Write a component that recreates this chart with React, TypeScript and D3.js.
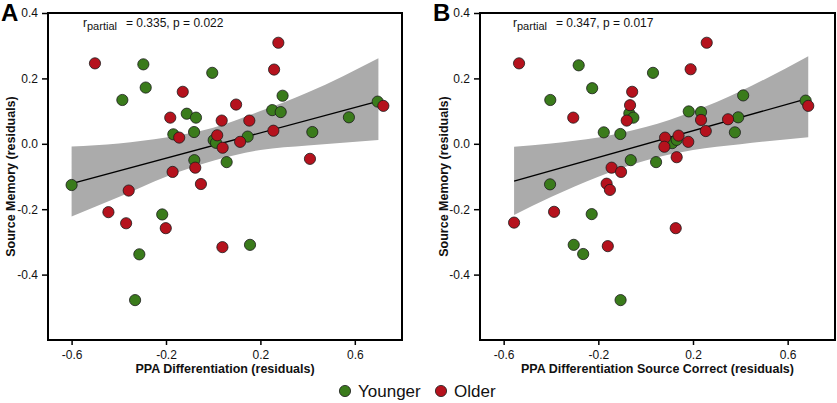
import * as d3 from "d3";
import { useEffect, useRef } from "react";

const width = 837;
const height = 403;
const font = "Arial, 'Liberation Sans', sans-serif";

const green = "#3a7b1b";
const red = "#b5121d";

// panel A: PPA differentiation vs source memory (residuals)
const youngerA: [number, number][] = [
  [-0.296, 0.243], [-0.286, 0.172], [-0.385, 0.134], [-0.004, 0.217],
  [-0.112, 0.092], [-0.073, 0.080], [-0.169, 0.029], [-0.081, 0.036],
  [0.002, 0.011], [0.012, 0.003], [0.146, 0.022], [0.250, 0.103],
  [0.286, 0.097], [0.294, 0.147], [0.697, 0.129], [0.575, 0.081],
  [0.420, 0.036], [-0.080, -0.050], [0.057, -0.056], [-0.600, -0.126],
  [-0.216, -0.216], [-0.313, -0.338], [0.156, -0.309], [-0.331, -0.478],
];
const olderA: [number, number][] = [
  [-0.501, 0.246], [0.276, 0.309], [0.258, 0.227], [-0.129, 0.159],
  [-0.182, 0.080], [0.097, 0.120], [0.036, 0.071], [0.153, 0.071],
  [-0.144, 0.019], [0.017, 0.026], [0.040, -0.012], [0.114, 0.006],
  [0.255, 0.040], [0.721, 0.116], [0.410, -0.046], [-0.172, -0.086],
  [-0.076, -0.073], [-0.052, -0.123], [-0.358, -0.143], [-0.444, -0.209],
  [-0.369, -0.243], [-0.201, -0.258], [0.039, -0.316],
];
const fitA = [{ x: -0.6, y: -0.122 }, { x: 0.693, y: 0.129 }];
const bandAx = [-0.6, -0.4, -0.2, 0, 0.2, 0.4, 0.7];
const bandAlo = [-0.222, -0.163, -0.101, -0.052, -0.019, -0.005, 0.012];
const bandAhi = [-0.008, 0.001, 0.019, 0.049, 0.100, 0.157, 0.262];

// panel B: PPA differentiation source correct vs source memory
const youngerB: [number, number][] = [
  [-0.283, 0.240], [-0.226, 0.170], [-0.403, 0.134], [0.031, 0.217],
  [-0.069, 0.093], [-0.052, 0.080], [-0.177, 0.035], [-0.107, 0.030],
  [-0.063, -0.050], [0.044, -0.056], [0.112, 0.002], [0.131, 0.012],
  [0.182, 0.099], [0.234, 0.097], [0.412, 0.148], [0.391, 0.081],
  [0.377, 0.035], [0.676, 0.132], [-0.404, -0.124], [-0.228, -0.215],
  [-0.304, -0.309], [-0.264, -0.337], [-0.106, -0.478],
];
const olderB: [number, number][] = [
  [-0.535, 0.246], [0.258, 0.309], [0.190, 0.228], [-0.057, 0.159],
  [-0.306, 0.080], [-0.066, 0.118], [-0.080, 0.071], [0.082, 0.019],
  [0.079, -0.009], [0.139, 0.025], [0.180, 0.006], [0.131, -0.041],
  [0.234, 0.073], [0.254, 0.039], [0.348, 0.075], [0.687, 0.116],
  [-0.144, -0.073], [-0.104, -0.086], [-0.165, -0.122], [-0.151, -0.141],
  [-0.387, -0.208], [-0.556, -0.241], [0.127, -0.258], [-0.160, -0.313],
];
const fitB = [{ x: -0.556, y: -0.114 }, { x: 0.687, y: 0.139 }];
const bandBx = [-0.556, -0.4, -0.2, 0, 0.2, 0.4, 0.687];
const bandBlo = [-0.218, -0.163, -0.101, -0.051, -0.019, -0.001, 0.020];
const bandBhi = [-0.009, 0.001, 0.019, 0.051, 0.099, 0.161, 0.268];

const xTicks = [-0.6, -0.2, 0.2, 0.6];
const yTicks = [-0.4, -0.2, 0.0, 0.2, 0.4];

const panels = [
  {
    letter: "A", left: 48, right: 402, younger: youngerA, older: olderA,
    fit: fitA, bx: bandAx, blo: bandAlo, bhi: bandAhi,
    xTitle: "PPA Differentiation (residuals)", r: "0.335", p: "0.022",
    annotX: 83, letterX: 1, yTitleX: 15,
  },
  {
    letter: "B", left: 480, right: 835, younger: youngerB, older: olderB,
    fit: fitB, bx: bandBx, blo: bandBlo, bhi: bandBhi,
    xTitle: "PPA Differentiation Source Correct (residuals)", r: "0.347", p: "0.017",
    annotX: 513, letterX: 433, yTitleX: 448,
  },
];

export default function App() {
  const svgRef = useRef<SVGSVGElement>(null);

  useEffect(() => {
    const svg = d3.select(svgRef.current);
    svg.selectAll("*").remove();

    const top = 13;
    const bottom = 340;

    panels.forEach((pn) => {
      const x = d3.scaleLinear().domain([-0.7, 0.8]).range([pn.left, pn.right]);
      const y = d3.scaleLinear().domain([-0.6, 0.4]).range([bottom, top]);
      const g = svg.append("g");

      // confidence band
      const band = pn.bx.map((v, i) => ({ x: v, lo: pn.blo[i], hi: pn.bhi[i] }));
      g.append("path")
        .datum(band)
        .attr("fill", "#ababab")
        .attr("d", d3.area<any>()
          .x(d => x(d.x))
          .y0(d => y(d.lo))
          .y1(d => y(d.hi))
          .curve(d3.curveMonotoneX));

      g.append("path")
        .datum(pn.fit)
        .attr("fill", "none")
        .attr("stroke", "#000")
        .attr("stroke-width", 1.4)
        .attr("d", d3.line<any>().x(d => x(d.x)).y(d => y(d.y)));

      // points: younger first, older drawn on top
      [[pn.younger, green], [pn.older, red]].forEach(([pts, col]: any) => {
        g.selectAll(null)
          .data(pts)
          .enter()
          .append("circle")
          .attr("cx", (d: any) => x(d[0]))
          .attr("cy", (d: any) => y(d[1]))
          .attr("r", 5.6)
          .attr("fill", col)
          .attr("stroke", "#1a1a1a")
          .attr("stroke-width", 0.8);
      });

      // frame
      g.append("rect")
        .attr("x", pn.left)
        .attr("y", top)
        .attr("width", pn.right - pn.left)
        .attr("height", bottom - top)
        .attr("fill", "none")
        .attr("stroke", "#000")
        .attr("stroke-width", 2);

      const yAxis = g.append("g")
        .attr("transform", `translate(${pn.left},0)`)
        .call(d3.axisLeft(y).tickValues(yTicks).tickSize(6).tickPadding(4)
          .tickFormat(d => (+d).toFixed(1)));
      const xAxis = g.append("g")
        .attr("transform", `translate(0,${bottom})`)
        .call(d3.axisBottom(x).tickValues(xTicks).tickSize(5).tickPadding(5)
          .tickFormat(d => (+d).toFixed(1)));
      [yAxis, xAxis].forEach(ax => {
        ax.select(".domain").remove();
        ax.selectAll("line").attr("stroke", "#000").attr("stroke-width", 1.5);
        ax.selectAll("text").attr("fill", "#111").style("font-size", "12px").style("font-family", font);
      });

      // titles
      g.append("text")
        .attr("x", (pn.left + pn.right) / 2)
        .attr("y", 373)
        .attr("text-anchor", "middle")
        .style("font-family", font)
        .style("font-weight", "bold")
        .style("font-size", "12.5px")
        .attr("fill", "#111")
        .text(pn.xTitle);

      g.append("text")
        .attr("transform", `translate(${pn.yTitleX},${(top + bottom) / 2}) rotate(-90)`)
        .attr("text-anchor", "middle")
        .style("font-family", font)
        .style("font-weight", "bold")
        .style("font-size", "12.5px")
        .attr("fill", "#111")
        .text("Source Memory (residuals)");

      g.append("text")
        .attr("x", pn.letterX)
        .attr("y", 21)
        .style("font-family", font)
        .style("font-weight", "bold")
        .style("font-size", "24px")
        .attr("fill", "#000")
        .text(pn.letter);

      const ann = g.append("text")
        .attr("y", 27)
        .style("font-family", font)
        .attr("fill", "#111");
      ann.append("tspan").attr("x", pn.annotX).style("font-size", "12px").text("r");
      ann.append("tspan").attr("x", pn.annotX + 4).attr("dy", 3).style("font-size", "11px").text("partial");
      ann.append("tspan").attr("x", pn.annotX + 43).attr("dy", -3).style("font-size", "12px")
        .text(`= ${pn.r}, p = ${pn.p}`);
    });

    // legend
    const legend = [{ label: "Younger", color: green, x: 345 }, { label: "Older", color: red, x: 441 }];
    const lg = svg.append("g");
    legend.forEach(l => {
      lg.append("circle")
        .attr("cx", l.x)
        .attr("cy", 391)
        .attr("r", 5.6)
        .attr("fill", l.color)
        .attr("stroke", "#1a1a1a")
        .attr("stroke-width", 0.8);
      lg.append("text")
        .attr("x", l.x + 13)
        .attr("y", 397)
        .style("font-family", font)
        .style("font-size", "17px")
        .attr("fill", "#111")
        .text(l.label);
    });
  }, []);

  return (
    <svg
      ref={svgRef}
      width={width}
      height={height}
      style={{ position: "absolute", left: 0, top: 0, background: "#fff" }}
    />
  );
}
